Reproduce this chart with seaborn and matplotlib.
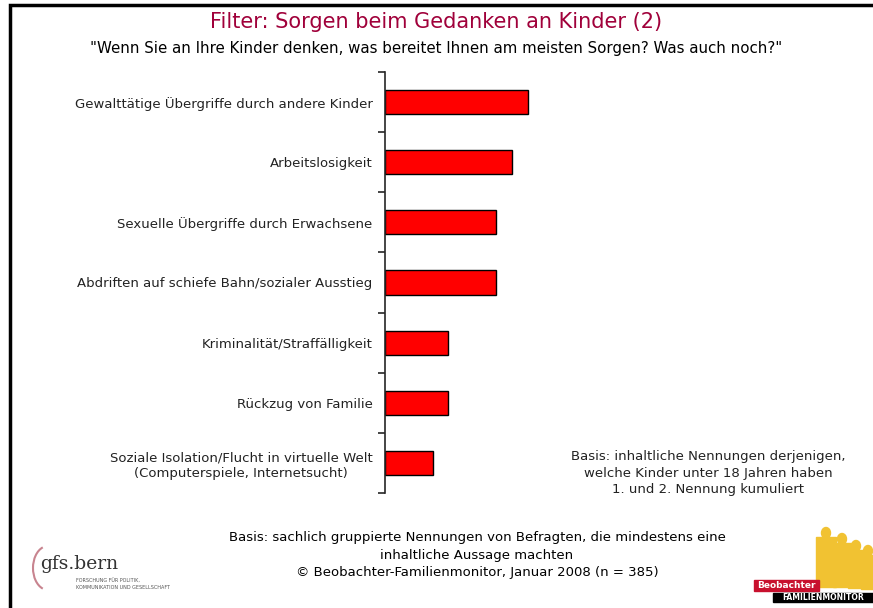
import pandas as pd
import seaborn as sns
import matplotlib.pyplot as plt
from matplotlib.patches import Rectangle, Arc, Ellipse

# Data (1. und 2. Nennung kumuliert, in %)
categories = [
    'Gewalttätige Übergriffe durch andere Kinder',
    'Arbeitslosigkeit',
    'Sexuelle Übergriffe durch Erwachsene',
    'Abdriften auf schiefe Bahn/sozialer Ausstieg',
    'Kriminalität/Straffälligkeit',
    'Rückzug von Familie',
    'Soziale Isolation/Flucht in virtuelle Welt\n(Computerspiele, Internetsucht)',
]
values = [9, 8, 7, 7, 4, 4, 3]

df = pd.DataFrame({'kategorie': categories, 'anteil': values})

sns.set_style('white')
plt.rcParams['font.family'] = ['DejaVu Sans']

W, H = 873, 608
fig = plt.figure(figsize=(W / 100, H / 100), dpi=100)

# frame round the slide
fig.patches.append(Rectangle((10 / W, -0.05), 0.99, (H - 5) / H + 0.05,
                             transform=fig.transFigure, fill=False,
                             edgecolor='black', linewidth=2.5))

ax = fig.add_axes([385 / W, (H - 493) / H, 475 / W, (493 - 72) / H])
sns.barplot(data=df, y='kategorie', x='anteil', orient='h', color='#ff0000',
            edgecolor='black', linewidth=1, width=0.4, saturation=1, ax=ax)
ax.set_xlim(0, 30)
ax.set_ylim(6.5, -0.5)
ax.set_xlabel('')
ax.set_ylabel('')
ax.set_xticks([])
for s in ['top', 'right', 'bottom']:
    ax.spines[s].set_visible(False)
ax.spines['left'].set_linewidth(1.2)

# ticks between the categories, labels in the middle
ax.set_yticks([i - 0.5 for i in range(len(categories) + 1)])
ax.set_yticklabels([])
ax.tick_params(axis='y', which='major', length=5, width=1.2, direction='out', left=True)
ax.set_yticks(range(len(categories)), minor=True)
ax.set_yticklabels(categories, minor=True, fontsize=9.5, color='#222222',
                   multialignment='center', linespacing=1.3)
ax.tick_params(axis='y', which='minor', length=0, pad=9)

fig.text(0.5, 1 - 22 / H, 'Filter: Sorgen beim Gedanken an Kinder (2)',
         ha='center', va='center', fontsize=15, color='#a0003a')
fig.text(0.5, 1 - 48 / H,
         '"Wenn Sie an Ihre Kinder denken, was bereitet Ihnen am meisten Sorgen? Was auch noch?"',
         ha='center', va='center', fontsize=10.8, color='black')

fig.text(708 / W, 1 - 473 / H,
         'Basis: inhaltliche Nennungen derjenigen,\nwelche Kinder unter 18 Jahren haben\n1. und 2. Nennung kumuliert',
         ha='center', va='center', fontsize=9.5, color='#222222', linespacing=1.35)

fig.text(477 / W, 1 - 555 / H,
         'Basis: sachlich gruppierte Nennungen von Befragten, die mindestens eine\n'
         'inhaltliche Aussage machten\n© Beobachter-Familienmonitor, Januar 2008 (n = 385)',
         ha='center', va='center', fontsize=9.5, color='black', linespacing=1.45)

# gfs.bern logo
fig.patches.append(Arc((48 / W, 1 - 568 / H), 30 / W, 44 / H, theta1=100, theta2=260,
                       transform=fig.transFigure, color='#c8848f', linewidth=1.5))
fig.text(40 / W, 1 - 564 / H, 'gfs.bern', ha='left', va='center', fontsize=13.5,
         family='serif', color='#333333')
fig.text(76 / W, 1 - 584 / H,
         'FORSCHUNG FÜR POLITIK,\nKOMMUNIKATION UND GESELLSCHAFT',
         ha='left', va='center', fontsize=3.5, color='#555555', linespacing=1.3)

# Beobachter logo
for cx, cy, w, h in [(826, 562, 20, 50), (842, 565, 18, 44), (856, 569, 16, 38), (868, 572, 14, 34)]:
    fig.patches.append(Rectangle(((cx - w / 2) / W, 1 - (cy + h / 2) / H), w / W, h / H,
                                 transform=fig.transFigure, color='#f1c232', zorder=1))
    fig.patches.append(Ellipse((cx / W, 1 - (cy - h / 2 - 4) / H), 9 / W, 11 / H,
                               transform=fig.transFigure, color='#f1c232', zorder=1))
fig.patches.append(Rectangle((754 / W, 1 - 591 / H), 65 / W, 11 / H,
                             transform=fig.transFigure, color='#c8102e', zorder=2))
fig.text(786.5 / W, 1 - 585.5 / H, 'Beobachter', ha='center', va='center', fontsize=6.5,
         color='white', weight='bold', zorder=3)
fig.patches.append(Rectangle((773 / W, 1 - 602 / H), 100 / W, 9 / H,
                             transform=fig.transFigure, color='black', zorder=2))
fig.text(823 / W, 1 - 597.5 / H, 'FAMILIENMONITOR', ha='center', va='center', fontsize=5.5,
         color='white', weight='bold', zorder=3)

fig.savefig('out.png', dpi=100)
